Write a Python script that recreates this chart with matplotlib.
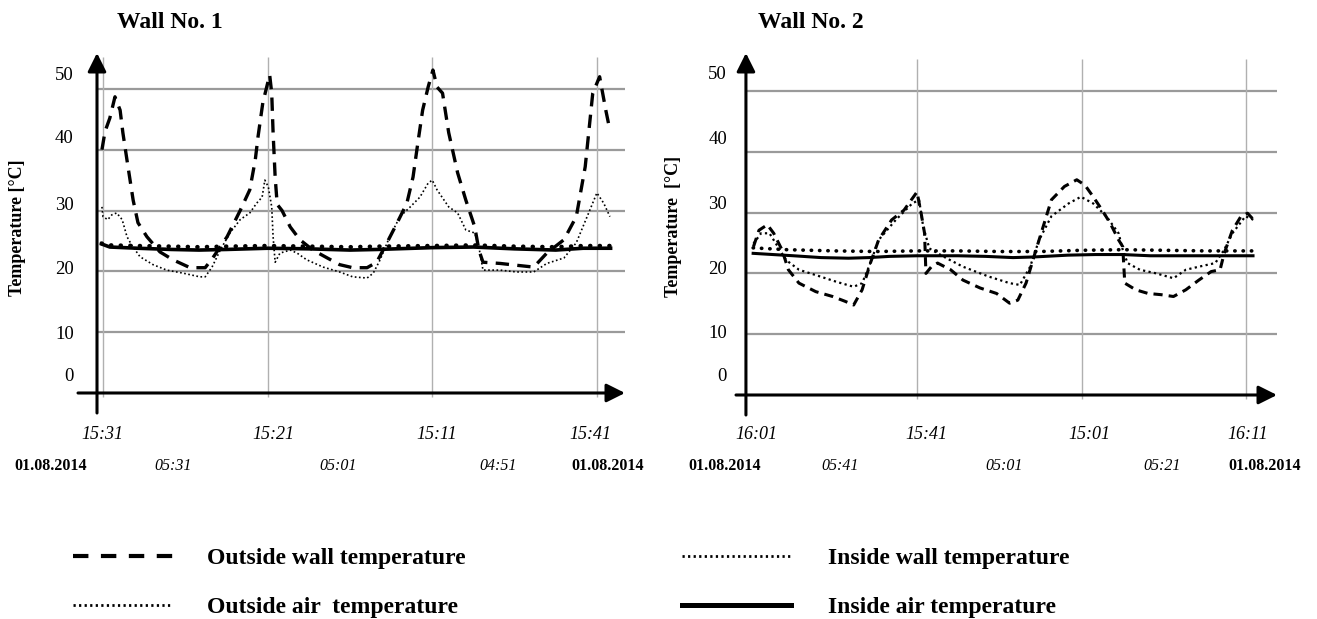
import numpy as np
import matplotlib
matplotlib.use("Agg")
import matplotlib.pyplot as plt

plt.rcParams['font.family'] = ['Liberation Serif', 'DejaVu Serif']

# ---- data: hours from the first reading, temperature in degC ----
# Wall No. 1
t1_ow = [-0.15, 0.3, 1.0, 1.75, 2.5, 2.9, 3.5, 4.4, 5.1, 6.4, 8.3, 10.2, 12.7, 14.9, 16.0,
         18.1, 20.0, 21.4, 22.2, 22.6, 23.3, 24.3, 24.6, 24.8, 25.1, 25.4, 26.1, 27.3, 28.7,
         30.6, 32.7, 34.5, 36.4, 38.5, 39.9, 41.4, 42.9, 44.3, 45.2, 45.9, 46.6, 47.4, 48.1,
         48.7, 49.5, 50.4, 51.7, 52.9, 54.2, 54.8, 55.4, 57.9, 60.3, 62.8, 64.7, 67.2, 69.0,
         70.3, 71.4, 72.4, 73.3, 73.9]
w1_outside_wall = [40.0, 43.0, 45.2, 48.7, 46.5, 42.8, 38.3, 31.7, 28.0, 25.7, 23.2, 21.9, 20.6,
                   20.6, 22.2, 25.7, 30.0, 33.4, 38.3, 42.1, 47.7, 52.3, 49.3, 42.8, 35.5, 31.0,
                   30.0, 27.3, 25.2, 23.5, 22.2, 21.1, 20.6, 20.6, 21.5, 24.7, 28.0, 31.2, 35.5,
                   41.1, 46.5, 50.3, 53.1, 50.3, 49.3, 42.8, 36.2, 31.7, 27.3, 23.5, 21.5, 21.3,
                   21.0, 20.7, 23.0, 25.2, 29.0, 37.2, 49.3, 52.0, 46.5, 43.2]

t1_oa = [-0.15, 0.0, 0.7, 1.3, 2.0, 2.8, 3.5, 4.2, 5.4, 7.3, 9.3, 11.7, 14.1, 14.9, 15.9, 17.1,
         18.5, 20.0, 21.4, 22.4, 23.2, 23.6, 24.1, 24.6, 24.8, 25.1, 25.8, 27.3, 28.3, 29.7,
         32.1, 34.5, 36.4, 38.5, 39.4, 40.4, 41.8, 43.3, 44.8, 46.2, 47.4, 48.0, 48.7, 50.4,
         51.7, 52.9, 54.2, 54.8, 55.4, 57.9, 60.3, 62.8, 64.7, 67.2, 69.0, 70.8, 72.0, 73.0, 73.9]
w1_outside_air = [30.6, 29.0, 28.5, 29.3, 29.6, 28.5, 25.7, 24.3, 22.4, 21.1, 20.2, 19.7, 19.1,
                  19.1, 20.7, 23.5, 26.3, 28.5, 29.6, 31.2, 32.2, 35.0, 33.9, 30.6, 25.7, 21.5,
                  23.0, 23.5, 23.0, 21.9, 20.7, 19.9, 19.1, 18.9, 19.7, 21.9, 25.7, 29.0, 30.6,
                  32.2, 34.5, 35.0, 33.4, 30.6, 29.6, 26.8, 26.3, 24.0, 20.2, 20.2, 19.9, 19.9,
                  21.3, 22.2, 24.7, 29.6, 32.9, 31.2, 29.0]

t1_in = [-0.2, 1, 5, 10, 14, 18, 24, 30, 36, 40, 48, 54, 60, 66, 70, 74]
w1_inside_wall = [24.6, 24.3, 24.2, 24.1, 24.0, 24.1, 24.2, 24.1, 24.0, 24.1, 24.2, 24.3, 24.1,
                  24.0, 24.2, 24.2]
w1_inside_air = [24.5, 24.0, 23.8, 23.6, 23.5, 23.6, 23.8, 23.7, 23.5, 23.6, 23.9, 24.0, 23.7,
                 23.5, 23.8, 23.8]

# Wall No. 2
t2_ow = [0.15, 0.95, 2.17, 3.1, 4.3, 5.24, 6.78, 9.23, 11.69, 13.53, 14.76, 15.99, 17.2, 18.4,
         20.3, 22.1, 24.0, 24.6, 25.1, 25.3, 26.1, 27.0, 28.9, 30.7, 33.2, 35.6, 37.5, 38.7,
         39.9, 41.2, 42.4, 43.6, 45.5, 47.3, 48.5, 49.7, 51.0, 52.2, 53.4, 54.0, 54.3, 55.9,
         57.7, 59.6, 61.4, 63.2, 65.1, 66.9, 68.2, 68.8, 70.0, 71.2, 72.2, 73.1]
w2_outside_wall = [24.4, 27.1, 28.0, 26.6, 23.9, 20.6, 18.4, 17.0, 16.2, 15.4, 14.8, 17.3, 21.7,
                   25.5, 28.8, 30.4, 33.4, 29.9, 26.6, 20.0, 21.1, 21.7, 20.6, 18.9, 17.6, 16.7,
                   15.1, 15.6, 18.4, 23.3, 27.7, 32.1, 34.3, 35.4, 34.5, 32.6, 30.4, 28.2, 25.5,
                   24.4, 18.4, 17.3, 16.7, 16.5, 16.2, 17.3, 18.9, 20.3, 20.6, 23.3, 27.1, 29.3,
                   29.9, 28.8]

t2_oa = [0.15, 1.25, 2.48, 3.7, 4.9, 6.78, 9.85, 12.3, 14.76, 16.0, 17.2, 18.4, 20.9, 23.3,
         24.3, 24.9, 25.8, 28.3, 30.7, 34.4, 37.5, 39.0, 40.5, 41.8, 43.6, 46.1, 47.9, 49.7,
         51.6, 53.4, 54.0, 54.7, 56.5, 58.9, 61.4, 63.2, 65.1, 67.5, 68.8, 70.0, 71.9, 73.1]
w2_outside_air = [24.9, 26.6, 26.6, 24.4, 22.2, 20.6, 19.5, 18.6, 17.8, 18.4, 21.7, 25.5, 28.8,
                  31.5, 32.1, 27.7, 24.1, 22.5, 21.1, 19.5, 18.4, 18.1, 21.1, 25.5, 29.4, 31.5,
                  32.6, 31.5, 29.4, 26.6, 23.9, 21.7, 20.6, 20.0, 19.2, 20.6, 21.1, 21.7, 23.9,
                  26.6, 29.4, 28.8]

t2_iw = [0.1, 5, 12, 18, 24, 30, 36, 42, 48, 54, 60, 66, 73]
w2_inside_wall = [24.2, 23.9, 23.7, 23.6, 23.7, 23.7, 23.6, 23.6, 23.8, 23.9, 23.8, 23.7, 23.7]
t2_ia = [0.1, 3, 6, 10, 14, 17, 20, 24, 30, 34, 38, 41, 46, 50, 54, 58, 64, 70, 73]
w2_inside_air = [23.3, 23.1, 22.9, 22.6, 22.5, 22.6, 22.8, 22.9, 22.9, 22.8, 22.6, 22.7, 23.0,
                 23.1, 23.1, 22.9, 22.9, 22.9, 22.9]

ytick_labels = ['0', '10', '20', '30', '40', '50']
grid_temps = [10, 20, 30, 40, 50]
day_marks = [0, 24, 48, 72]

w1_top_labels = ['15:31', '15:21', '15:11', '15:41']
w1_top_pos = [-0.15, 24.8, 48.7, 71.1]
w1_bottom_labels = ['01.08.2014', '05:31', '05:01', '04:51', '01.08.2014']
w1_bottom_pos = [-7.6, 10.2, 34.3, 57.6, 73.5]

w2_top_labels = ['16:01', '15:41', '15:01', '16:11']
w2_top_pos = [0.5, 25.4, 49.2, 72.2]
w2_bottom_labels = ['01.08.2014', '05:41', '05:01', '05:21', '01.08.2014']
w2_bottom_pos = [-4.0, 12.8, 36.7, 59.7, 74.7]

W, H = 1317, 619
fig = plt.figure(figsize=(W / 100, H / 100), dpi=100)


def panel(x0, x1, y0, y1):
    return fig.add_axes([x0 / W, 1 - y1 / H, (x1 - x0) / W, (y1 - y0) / H])


def setup(ax, xlim, ylim, yaxis_t, grid_x, ytick_pos, ypad, top_lab, top_pos, xpad,
          bot_lab, bot_pos, bot_y):
    ax.set_xlim(*xlim)
    ax.set_ylim(*ylim)
    for s in ax.spines.values():
        s.set_visible(False)
    ax.hlines(grid_temps, yaxis_t, xlim[1], color='#9a9a9a', lw=1.6, zorder=1)
    ax.vlines(grid_x, -0.7, 55.3, color='#b0b0b0', lw=1.0, zorder=1)
    # axis arrows
    ax.annotate('', xy=(xlim[1], 0), xytext=(xlim[0], 0), annotation_clip=False,
                arrowprops=dict(arrowstyle='-|>', lw=2.2, color='k', mutation_scale=28,
                                shrinkA=0, shrinkB=0), zorder=5)
    ax.annotate('', xy=(yaxis_t, ylim[1]), xytext=(yaxis_t, ylim[0]), annotation_clip=False,
                arrowprops=dict(arrowstyle='-|>', lw=2.2, color='k', mutation_scale=28,
                                shrinkA=0, shrinkB=0), zorder=5)
    ax.set_yticks(ytick_pos)
    ax.set_yticklabels(ytick_labels, fontsize=13.5)
    ax.tick_params(axis='y', length=0, pad=ypad)
    ax.set_xticks(top_pos)
    ax.set_xticklabels(top_lab, fontsize=13, style='italic')
    ax.tick_params(axis='x', length=0, pad=xpad)
    for lab, pos in zip(bot_lab, bot_pos):
        if '.' in lab:
            ax.text(pos, bot_y, lab, transform=ax.get_xaxis_transform(), fontsize=11.5,
                    fontweight='bold', ha='center', va='center')
        else:
            ax.text(pos, bot_y, lab, transform=ax.get_xaxis_transform(), fontsize=11.5,
                    style='italic', ha='center', va='center')


# ---- Wall No. 1 ----
ax1 = panel(78, 625, 53, 413)
setup(ax1, (-3.64, 76.1), (-3.29, 55.9), -0.87, day_marks,
      [3.0, 10.0, 20.7, 31.2, 42.1, 52.6], 3, w1_top_labels, w1_top_pos, 9.5,
      w1_bottom_labels, w1_bottom_pos, -0.147)
l_ow, = ax1.plot(t1_ow, w1_outside_wall, color='k', lw=2.4, dashes=(4, 2.5), zorder=3)
l_oa, = ax1.plot(t1_oa, w1_outside_air, color='k', lw=1.2, dashes=(1, 1.5), zorder=3)
l_iw, = ax1.plot(t1_in, w1_inside_wall, color='k', lw=3.0, dashes=(0.1, 2.2),
                 dash_capstyle='round', zorder=3)
l_ia, = ax1.plot(t1_in, w1_inside_air, color='k', lw=2.6, zorder=3)

# ---- Wall No. 2 ----
ax2 = panel(736, 1277, 53, 415)
setup(ax2, (-2.4, 76.5), (-3.29, 56.25), -0.95, day_marks[1:],
      [3.3, 10.5, 20.9, 31.6, 42.4, 53.0], 6.5, w2_top_labels, w2_top_pos, 8,
      w2_bottom_labels, w2_bottom_pos, -0.14)
ax2.plot(t2_ow, w2_outside_wall, color='k', lw=2.2, dashes=(3, 2), zorder=3)
ax2.plot(t2_oa, w2_outside_air, color='k', lw=1.6, dashes=(1, 1.5), zorder=3)
ax2.plot(t2_iw, w2_inside_wall, color='k', lw=2.6, dashes=(0.1, 2.2),
         dash_capstyle='round', zorder=3)
ax2.plot(t2_ia, w2_inside_air, color='k', lw=2.2, zorder=3)

fig.text(117 / W, 1 - 22 / H, 'Wall No. 1', fontsize=17, fontweight='bold', ha='left', va='center')
fig.text(758 / W, 1 - 22 / H, 'Wall No. 2', fontsize=17, fontweight='bold', ha='left', va='center')
fig.text(18 / W, 1 - 228 / H, 'Temperature [°C]', rotation=90, fontsize=13, fontweight='bold',
         ha='center', va='center')
fig.text(673 / W, 1 - 226 / H, 'Temperature  [°C]', rotation=90, fontsize=13, fontweight='bold',
         ha='center', va='center')

# ---- legend ----
fsz = 17
leg1 = fig.legend([l_ow, l_oa], ['Outside wall temperature', 'Outside air  temperature'],
                  loc='center left', bbox_to_anchor=(73 / W, 1 - 583 / H), frameon=False,
                  prop={'size': fsz, 'weight': 'bold'}, handlelength=4.24, handletextpad=1.44,
                  labelspacing=1.16, borderpad=0, borderaxespad=0)
leg2 = fig.legend([l_iw, l_ia], ['Inside wall temperature', 'Inside air temperature'],
                  loc='center left', bbox_to_anchor=(682 / W, 1 - 583 / H), frameon=False,
                  prop={'size': fsz, 'weight': 'bold'}, handlelength=4.6, handletextpad=1.57,
                  labelspacing=1.16, borderpad=0, borderaxespad=0)
h = leg1.get_lines()
h[0].set_linewidth(3.0)
h[0].set_dashes((3.7, 3.0))
h[1].set_linewidth(2.0)
h[1].set_dashes((0.8, 1.2))
h = leg2.get_lines()
h[0].set_linewidth(2.0)
h[0].set_dashes((0.8, 1.2))
h[0].set_dash_capstyle('butt')
h[1].set_linewidth(3.6)

fig.savefig('out.png', dpi=100)
